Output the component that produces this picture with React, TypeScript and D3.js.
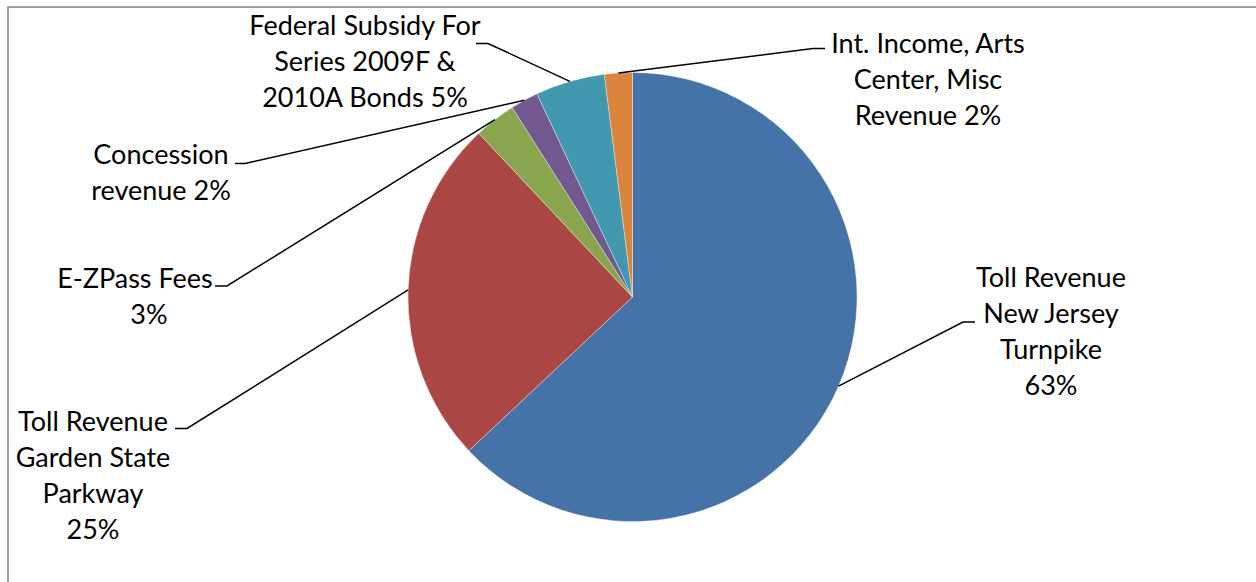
import React from "react";
import * as d3 from "d3";

const categories = [
  "Toll Revenue New Jersey Turnpike",
  "Toll Revenue Garden State Parkway",
  "E-ZPass Fees",
  "Concession revenue",
  "Federal Subsidy For Series 2009F & 2010A Bonds",
  "Int. Income, Arts Center, Misc Revenue",
];
const values = [63, 25, 3, 2, 5, 2];
const labelLines = [
  ["Toll Revenue", "New Jersey", "Turnpike", "63%"],
  ["Toll Revenue", "Garden State", "Parkway", "25%"],
  ["E-ZPass Fees", "3%"],
  ["Concession", "revenue 2%"],
  ["Federal Subsidy For", "Series 2009F &", "2010A Bonds 5%"],
  ["Int. Income, Arts", "Center, Misc", "Revenue 2%"],
];
const colors = ["#4572A7", "#AA4643", "#89A54E", "#71588F", "#4198AF", "#DB843D"];

// layout (label block centre x, first line centre y, elbow points, per-line x shifts)
const labelLayout = [
  { x: 1051, y: 278, elbow: [963, 322], end: [975, 322], shift: [0, 0, 0, 0] },
  { x: 93, y: 422, elbow: [187, 428.5], end: [175, 428.5], shift: [0, 0, 0, 0] },
  { x: 135, y: 279, elbow: [227, 286], end: [215, 286], shift: [0, 14] },
  { x: 161, y: 155, elbow: [245, 163.5], end: [235, 163.5], shift: [0, 0] },
  { x: 365, y: 26, elbow: [488, 43.5], end: [476, 43.5], shift: [0, 0, 0] },
  { x: 928, y: 44, elbow: [813, 48.5], end: [825, 48.5], shift: [0, 0, 0] },
];

const W = 1256;
const H = 582;
const cx = 632.5;
const cy = 297;
const R = 224.5;
const lineH = 36;
const fontSize = 27;

export default function App() {
  const pie = d3
    .pie<number>()
    .sort(null)
    .value((d) => d)
    .startAngle(0)
    .endAngle(2 * Math.PI);
  const arcs = pie(values);
  const arcGen = d3.arc<d3.PieArcDatum<number>>().innerRadius(0).outerRadius(R);

  return (
    <svg
      width={W}
      height={H}
      style={{ position: "absolute", left: 0, top: 0, background: "#fff" }}
      fontFamily="Lato, 'Open Sans', sans-serif"
    >
      <rect x={8} y={7} width={W + 20} height={H + 20} fill="#fff" stroke="#8a8a8a" strokeWidth={1.6} />
      <g transform={`translate(${cx},${cy})`}>
        {arcs.map((a, i) => (
          <path key={categories[i]} d={arcGen(a) || ""} fill={colors[i]} stroke="#fff" strokeWidth={0.6} strokeOpacity={0.6} />
        ))}
      </g>
      {arcs.map((a, i) => {
        const mid = (a.startAngle + a.endAngle) / 2;
        const px = cx + R * Math.sin(mid);
        const py = cy - R * Math.cos(mid);
        const L = labelLayout[i];
        return (
          <polyline
            key={"l" + i}
            points={`${px},${py} ${L.elbow[0]},${L.elbow[1]} ${L.end[0]},${L.end[1]}`}
            fill="none"
            stroke="#000"
            strokeWidth={1.5}
          />
        );
      })}
      {labelLines.map((lines, i) => (
        <text key={"t" + i} textAnchor="middle" fontSize={fontSize} fill="#000">
          {lines.map((ln, j) => (
            <tspan
              key={j}
              x={labelLayout[i].x + (labelLayout[i].shift[j] || 0)}
              y={labelLayout[i].y + j * lineH}
              dy="0.35em"
            >
              {ln}
            </tspan>
          ))}
        </text>
      ))}
    </svg>
  );
}
